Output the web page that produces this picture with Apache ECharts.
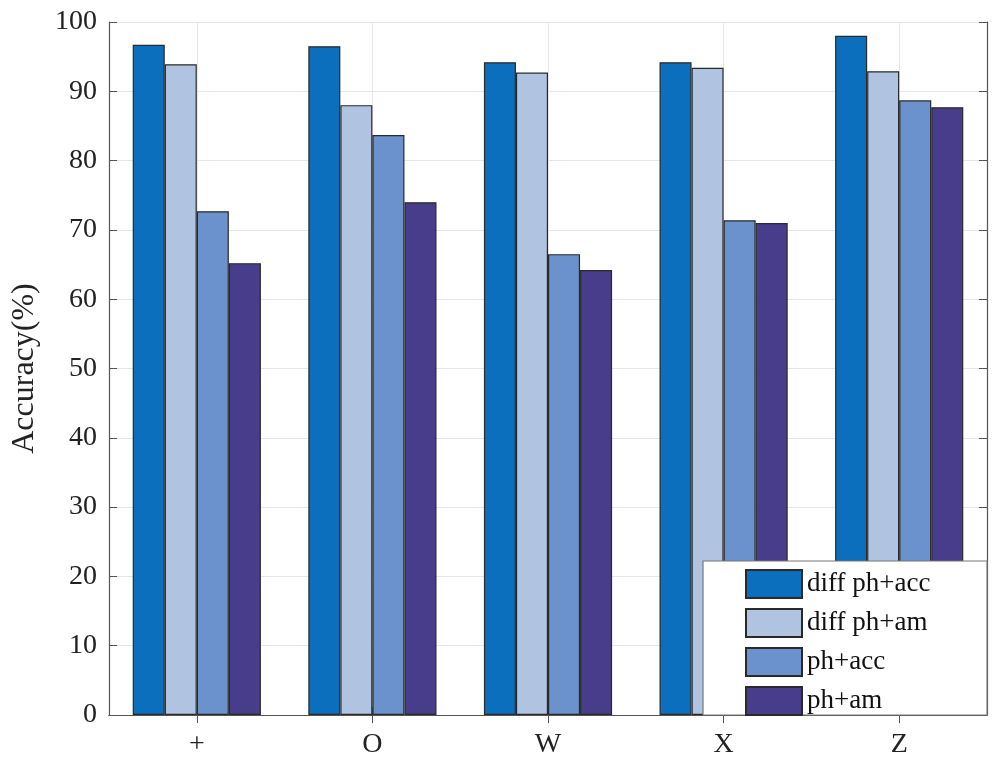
<!DOCTYPE html>
<html>
<head>
<meta charset="utf-8">
<script src="https://cdn.jsdelivr.net/npm/echarts@6/dist/echarts.min.js"></script>
<style>html,body{margin:0;padding:0;background:#fff}#c{width:1000px;height:766px}</style>
</head>
<body>
<div id="c"></div>
<script>
const categories = ['+', 'O', 'W', 'X', 'Z'];
const seriesNames = ['diff ph+acc', 'diff ph+am', 'ph+acc', 'ph+am'];
const diffPhAcc = [96.7, 96.5, 94.2, 94.2, 98.0];
const diffPhAm = [93.9, 88.0, 92.7, 93.4, 92.9];
const phAcc = [72.7, 83.7, 66.5, 71.4, 88.7];
const phAm = [65.2, 74.0, 64.2, 71.0, 87.7];
const yTicks = [0, 10, 20, 30, 40, 50, 60, 70, 80, 90, 100];

const values = [diffPhAcc, diffPhAm, phAcc, phAm];
const colors = ['#0b6fbd', '#b0c4e1', '#6b92cc', '#483d8b'];
const font = '"Liberation Serif", "Times New Roman", Times, serif';
const axisColor = '#555555';

// helper axis for grid lines at category centres (2n+1 points, odd ones = centres)
const helperCats = [];
for (let i = 0; i <= categories.length * 2; i++) helperCats.push(i % 2 === 1 ? categories[(i - 1) / 2] : '');

const chart = echarts.init(document.getElementById('c'));
chart.setOption({
  animation: false,
  backgroundColor: '#fff',
  grid: { left: 109, right: 13, top: 22, bottom: 51 },
  legend: {
    orient: 'vertical',
    left: 745, top: 569,
    padding: 0,
    itemWidth: 56, itemHeight: 28, itemGap: 9,
    icon: 'rect',
    z: 20,
    data: seriesNames,
    textStyle: { fontFamily: font, fontSize: 27, color: '#111' }
  },
  graphic: [{
    type: 'rect', z: 15,
    shape: { x: 703, y: 561, width: 284, height: 154 },
    style: { fill: '#fff', stroke: '#777', lineWidth: 1.2 }
  }],
  xAxis: [{
    type: 'category',
    data: categories,
    position: 'bottom',
    axisLine: { lineStyle: { color: axisColor, width: 1.2 } },
    axisTick: { show: true, alignWithLabel: true, inside: true, length: 8, lineStyle: { color: axisColor } },
    axisLabel: { fontFamily: font, fontSize: 28, color: '#222', margin: 16 },
    splitLine: { show: false }
  }, {
    type: 'category',
    data: helperCats,
    boundaryGap: false,
    position: 'top',
    axisLine: { show: true, lineStyle: { color: axisColor, width: 1.2 } },
    axisTick: { show: true, inside: true, length: 8, interval: function (i) { return i % 2 === 1; }, lineStyle: { color: axisColor } },
    axisLabel: { show: false },
    splitLine: { show: true, interval: function (i) { return i % 2 === 1; }, lineStyle: { color: '#e6e6e6', width: 1 } }
  }],
  yAxis: [{
    type: 'value',
    min: 0, max: 100, interval: 10,
    name: 'Accuracy(%)',
    nameLocation: 'middle',
    nameGap: 68,
    nameRotate: 90,
    nameTextStyle: { fontFamily: font, fontSize: 32, color: '#222' },
    axisLine: { show: true, lineStyle: { color: axisColor, width: 1.2 } },
    axisTick: { show: true, inside: true, length: 8, lineStyle: { color: axisColor } },
    axisLabel: { fontFamily: font, fontSize: 28, color: '#222', margin: 12,
      formatter: function (v) { return yTicks.indexOf(v) >= 0 ? String(v) : ''; } },
    splitLine: { show: true, lineStyle: { color: '#e6e6e6', width: 1 } }
  }, {
    type: 'value',
    min: 0, max: 100, interval: 10,
    position: 'right',
    axisLine: { show: true, lineStyle: { color: axisColor, width: 1.2 } },
    axisTick: { show: true, inside: true, length: 8, lineStyle: { color: axisColor } },
    axisLabel: { show: false },
    splitLine: { show: false }
  }],
  series: seriesNames.map(function (name, i) {
    return {
      name: name,
      type: 'bar',
      xAxisIndex: 0, yAxisIndex: 0,
      data: values[i],
      barGap: '0%',
      barCategoryGap: '27%',
      itemStyle: { color: colors[i], borderColor: '#2a2a2a', borderWidth: 1.2 },
      z: 2
    };
  })
});
</script>
</body>
</html>
